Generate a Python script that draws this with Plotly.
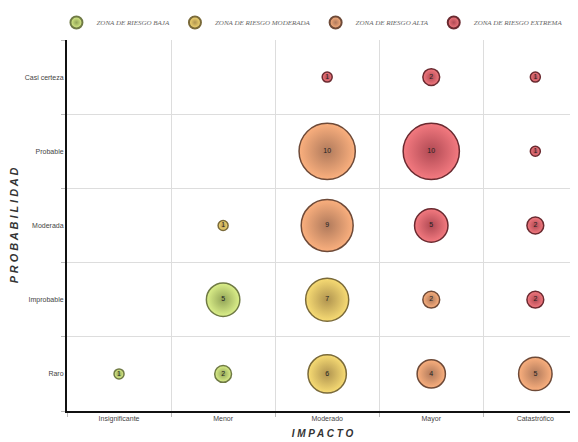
import plotly.graph_objects as go

impacto = ["Insignificante", "Menor", "Moderado", "Mayor", "Catastrófico"]
probabilidad = ["Raro", "Improbable", "Moderada", "Probable", "Casi certeza"]
zonas = ["ZONA DE RIESGO BAJA", "ZONA DE RIESGO MODERADA", "ZONA DE RIESGO ALTA", "ZONA DE RIESGO EXTREMA"]

pt_impacto = ["Moderado", "Mayor", "Catastrófico",
              "Moderado", "Mayor", "Catastrófico",
              "Menor", "Moderado", "Mayor", "Catastrófico",
              "Menor", "Moderado", "Mayor", "Catastrófico",
              "Insignificante", "Menor", "Moderado", "Mayor", "Catastrófico"]
pt_prob = ["Casi certeza"] * 3 + ["Probable"] * 3 + ["Moderada"] * 4 + ["Improbable"] * 4 + ["Raro"] * 5
pt_valor = [1, 2, 1,
            10, 10, 1,
            1, 9, 5, 2,
            5, 7, 2, 2,
            1, 2, 6, 4, 5]
pt_zona = ["EXTREMA", "EXTREMA", "EXTREMA",
           "ALTA", "EXTREMA", "EXTREMA",
           "MODERADA", "ALTA", "EXTREMA", "EXTREMA",
           "BAJA", "MODERADA", "ALTA", "EXTREMA",
           "BAJA", "BAJA", "MODERADA", "ALTA", "ALTA"]

estilo = {
    "BAJA": ("#dcf08a", "#93a558", "#6f7a45"),
    "MODERADA": ("#f8dc74", "#b09450", "#7a6a3a"),
    "ALTA": ("#fbb07e", "#b07a5c", "#6e4a38"),
    "EXTREMA": ("#f47a80", "#b04a54", "#6a2a30"),
}

fig = go.Figure()
for z in zonas:
    key = z.split()[-1]
    idx = [i for i, k in enumerate(pt_zona) if k == key]
    xs = [impacto.index(pt_impacto[i]) for i in idx]
    ys = [probabilidad.index(pt_prob[i]) for i in idx]
    vs = [pt_valor[i] for i in idx]
    c, g, l = estilo[key]
    fig.add_trace(go.Scatter(
        x=xs, y=ys, mode="markers+text", name="<i>" + z + "</i>",
        text=[str(v) for v in vs], textposition="middle center",
        textfont=dict(size=7, color="#222", family="Liberation Sans"),
        marker=dict(size=[10 * v ** 0.75 for v in vs], color=c,
                    gradient=dict(type="radial", color=g),
                    line=dict(color=l, width=1.5), opacity=1),
        hoverinfo="skip",
    ))

axis_common = dict(showgrid=False, zeroline=False, showline=True, linecolor="#111", linewidth=2,
                   automargin=False,
                   tickfont=dict(size=7, color="#444", family="Liberation Sans"), ticks="",
                   minor=dict(tick0=0.5, dtick=1, showgrid=True, gridcolor="#dddddd", gridwidth=1,
                              ticks="outside", ticklen=4, tickcolor="#bbbbbb"))

fig.update_layout(
    width=570, height=434,
    margin=dict(l=59, r=0, t=32, b=31, autoexpand=False),
    paper_bgcolor="white", plot_bgcolor="white",
    showlegend=True,
    legend=dict(orientation="h", x=0.085, xanchor="left", y=1.0, yanchor="top",
                yref="container", xref="container", itemsizing="constant",
                font=dict(size=7, color="#666", family="Liberation Serif"),
                tracegroupgap=0),
    xaxis=dict(axis_common, range=[-0.5, 4.41], tickvals=list(range(5)), ticktext=impacto,
               title=dict(text="<b><i>I M P A C T O</i></b>", font=dict(size=10, color="#333", family="Liberation Sans"), standoff=8)),
    yaxis=dict(axis_common, range=[-0.5, 4.5], tickvals=list(range(5)), ticktext=probabilidad,
               title=dict(text="<b><i>P R O B A B I L I D A D</i></b>", font=dict(size=11, color="#333", family="Liberation Sans"), standoff=4)),
)
fig.write_html("out.html")
